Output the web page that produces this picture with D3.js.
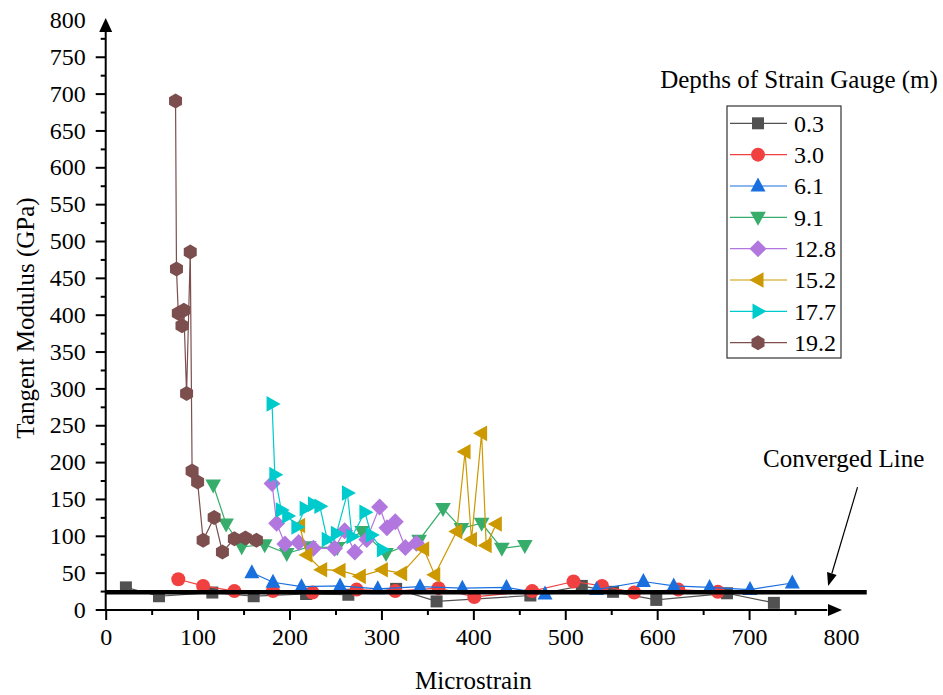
<!DOCTYPE html>
<html>
<head>
<meta charset="utf-8">
<script src="https://cdn.jsdelivr.net/npm/d3@7"></script>
<style>
  body { margin: 0; background: #fff; }
  svg { display: block; }
</style>
</head>
<body>
<svg id="chart" width="943" height="695"></svg>
<script>
// Strain gauge depths (m), one series per gauge
const depthLabels = ["0.3", "3.0", "6.1", "9.1", "12.8", "15.2", "17.7", "19.2"];
const seriesColors = ["#515151", "#F14040", "#1A6FDF", "#37AD6B", "#B177DE", "#CC9900", "#00CBCC", "#7D4E4E"];
const seriesShapes = ["square", "circle", "triangleUp", "triangleDown", "diamond", "triangleLeft", "triangleRight", "hexagon"];

// [microstrain, tangent modulus (GPa)]
const gauge0_3 = [[22, 30], [58, 18], [116, 23], [161, 18], [218, 21], [264, 20], [316, 28], [360, 11],
                  [462, 19], [518, 32], [552, 24], [599, 13], [676, 22], [727, 9]];
const gauge3_0 = [[79, 41], [106, 32], [140, 25], [182, 25], [225, 23], [273, 27], [315, 25], [362, 29],
                  [401, 17], [464, 25], [509, 38], [540, 32], [575, 23], [623, 27], [666, 24]];
const gauge6_1 = [[159, 50], [182, 37], [213, 31], [255, 32], [296, 28], [342, 31], [388, 29], [436, 30],
                  [478, 21], [534, 27], [585, 38], [618, 32], [657, 30], [701, 27], [747, 36]];
const gauge9_1 = [[117, 169], [131, 116], [148, 85], [173, 88], [197, 76], [221, 85], [252, 84], [279, 106],
                  [305, 76], [341, 94], [367, 137], [387, 110], [409, 117], [431, 83], [456, 87]];
const gauge12_8 = [[181, 171], [186, 117], [195, 89], [210, 91], [226, 83], [249, 83], [260, 107], [271, 78],
                   [284, 95], [298, 139], [306, 111], [315, 119], [326, 84], [338, 90]];
const gauge15_2 = [[211, 114], [219, 74], [235, 54], [255, 53], [277, 45], [301, 54], [322, 49], [346, 82],
                   [358, 47], [382, 106], [391, 214], [398, 95], [409, 239], [414, 87], [425, 116]];
const gauge17_7 = [[181, 279], [184, 183], [191, 135], [198, 127], [208, 112], [217, 137], [226, 143], [233, 140],
                   [241, 95], [251, 103], [263, 158], [268, 99], [282, 132], [289, 101], [301, 81]];
const gauge19_2 = [[76, 690], [77, 462], [79, 402], [83, 385], [85, 406], [88, 293], [92, 485], [94, 188],
                   [100, 173], [106, 94], [118, 125], [127, 78], [140, 96], [152, 97], [164, 94]];
const allSeries = [gauge0_3, gauge3_0, gauge6_1, gauge9_1, gauge12_8, gauge15_2, gauge17_7, gauge19_2];

// Converged modulus line and its annotation
const convergedLine = [[0, 23.3], [828, 23.3]];
const convergedArrow = [[818, 166], [786, 32]];
const convergedLabelPos = [803, 194];

const xTicks = [0, 100, 200, 300, 400, 500, 600, 700, 800];
const xMinorTicks = [50, 150, 250, 350, 450, 550, 650, 750];
const yTicks = [0, 50, 100, 150, 200, 250, 300, 350, 400, 450, 500, 550, 600, 650, 700, 750, 800];
const yMinorTicks = d3.range(25, 800, 50);

const FONT = '"Liberation Serif", "Times New Roman", serif';
const svg = d3.select("#chart");
const x = d3.scaleLinear().domain([0, 800]).range([105.7, 841]);
const y = d3.scaleLinear().domain([0, 800]).range([609.5, 19.9]);

function label(sel, size) {
  return sel.style("font-family", FONT).style("font-size", size + "px").attr("fill", "#000");
}

// Marker outlines centred on the origin
function markerPath(shape) {
  switch (shape) {
    case "square": return "M-6,-6H6V6H-6Z";
    case "circle": return d3.symbol(d3.symbolCircle, Math.PI * 49)();
    case "triangleUp": return "M0,-8.5L7.5,5.5L-7.5,5.5Z";
    case "triangleDown": return "M0,8.5L7.8,-5.5L-7.8,-5.5Z";
    case "triangleLeft": return "M-8.5,0L5.5,-7.8L5.5,7.8Z";
    case "triangleRight": return "M8.5,0L-5.5,-7.8L-5.5,7.8Z";
    case "diamond": return "M0,-8.5L8.5,0L0,8.5L-8.5,0Z";
    case "hexagon": {
      const r = 7.5;
      const pts = d3.range(6).map(i => {
        const a = -Math.PI / 2 + i * Math.PI / 3;
        return [r * Math.cos(a), r * Math.sin(a)];
      });
      return "M" + pts.map(p => p.join(",")).join("L") + "Z";
    }
  }
}

// Axes with minor ticks
const axisG = svg.append("g");
const xAxis = axisG.append("g").attr("transform", `translate(0,${y(0) + 0.5})`)
  .call(d3.axisBottom(x).tickValues(xTicks).tickSize(10).tickPadding(8).tickFormat(d3.format("d")));
xAxis.append("g").call(d3.axisBottom(x).tickValues(xMinorTicks).tickSize(5).tickFormat(""));
const yAxis = axisG.append("g").attr("transform", `translate(${x(0)},0)`)
  .call(d3.axisLeft(y).tickValues(yTicks).tickSize(10).tickPadding(10).tickFormat(d3.format("d")));
yAxis.append("g").call(d3.axisLeft(y).tickValues(yMinorTicks).tickSize(5).tickFormat(""));
axisG.selectAll(".domain").remove();
axisG.selectAll("g").attr("font-family", null).attr("font-size", null);
axisG.selectAll(".tick line").attr("stroke", "#000").attr("stroke-width", 2);
label(axisG.selectAll(".tick text"), 24);
// the last tick of each axis sits under the arrow head
xAxis.selectAll(".tick").filter(d => d === 800).select("line").remove();
yAxis.selectAll(".tick").filter(d => d === 800).select("line").remove();

// axis lines with arrow heads
const x0 = x(0), y0 = y(0) + 0.5;
axisG.append("line").attr("x1", x0 - 1).attr("x2", x(785)).attr("y1", y0).attr("y2", y0)
  .attr("stroke", "#000").attr("stroke-width", 2);
axisG.append("path").attr("d", `M${x(800) + 1},${y0}L${x(800) - 13},${y0 - 6}L${x(800) - 13},${y0 + 6}Z`).attr("fill", "#000");
axisG.append("line").attr("x1", x0).attr("x2", x0).attr("y1", y0 + 1).attr("y2", y(785))
  .attr("stroke", "#000").attr("stroke-width", 2);
axisG.append("path").attr("d", `M${x0},${y(800) - 2}L${x0 - 6.5},${y(800) + 12}L${x0 + 6.5},${y(800) + 12}Z`).attr("fill", "#000");

// axis titles
label(svg.append("text"), 25).attr("x", (x(0) + x(800)) / 2).attr("y", 689).attr("text-anchor", "middle")
  .text("Microstrain");
label(svg.append("text"), 25).attr("transform", "translate(34,318) rotate(-90)").attr("text-anchor", "middle")
  .text("Tangent Modulus (GPa)");

// data series
const line = d3.line().x(d => x(d[0])).y(d => y(d[1]));
allSeries.forEach((data, i) => {
  const g = svg.append("g");
  g.append("path").attr("d", line(data)).attr("fill", "none")
    .attr("stroke", seriesColors[i]).attr("stroke-width", 1.2);
  g.selectAll("path.m").data(data).join("path").attr("class", "m")
    .attr("transform", d => `translate(${x(d[0])},${y(d[1])})`)
    .attr("d", markerPath(seriesShapes[i])).attr("fill", seriesColors[i]);
});

// converged line
svg.append("path").attr("d", line(convergedLine)).attr("stroke", "#000").attr("stroke-width", 4.5).attr("fill", "none");

// annotation arrow
const [a0, a1] = convergedArrow.map(p => [x(p[0]), y(p[1])]);
const ang = Math.atan2(a1[1] - a0[1], a1[0] - a0[0]);
const headLen = 13, headW = 5;
const bx = a1[0] - headLen * Math.cos(ang), by = a1[1] - headLen * Math.sin(ang);
svg.append("line").attr("x1", a0[0]).attr("y1", a0[1]).attr("x2", bx).attr("y2", by)
  .attr("stroke", "#000").attr("stroke-width", 1.2);
svg.append("path").attr("fill", "#000").attr("d",
  `M${a1[0]},${a1[1]}L${bx + headW * Math.sin(ang)},${by - headW * Math.cos(ang)}L${bx - headW * Math.sin(ang)},${by + headW * Math.cos(ang)}Z`);
label(svg.append("text"), 25).attr("x", x(convergedLabelPos[0])).attr("y", y(convergedLabelPos[1]))
  .attr("text-anchor", "middle").text("Converged Line");

// legend
const legend = svg.append("g");
label(legend.append("text"), 25).attr("x", 799).attr("y", 88).attr("text-anchor", "middle")
  .text("Depths of Strain Gauge (m)");
legend.append("rect").attr("x", 727).attr("y", 106).attr("width", 114).attr("height", 252)
  .attr("fill", "#fff").attr("stroke", "#333").attr("stroke-width", 1.2);
depthLabels.forEach((lab, i) => {
  const cy = 123.3 + i * 31.34;
  legend.append("line").attr("x1", 730).attr("x2", 787).attr("y1", cy).attr("y2", cy)
    .attr("stroke", seriesColors[i]).attr("stroke-width", 1.2);
  legend.append("path").attr("transform", `translate(758,${cy})`)
    .attr("d", markerPath(seriesShapes[i])).attr("fill", seriesColors[i]);
  label(legend.append("text"), 24).attr("x", 794).attr("y", cy).attr("dy", "0.35em").text(lab);
});
</script>
</body>
</html>
